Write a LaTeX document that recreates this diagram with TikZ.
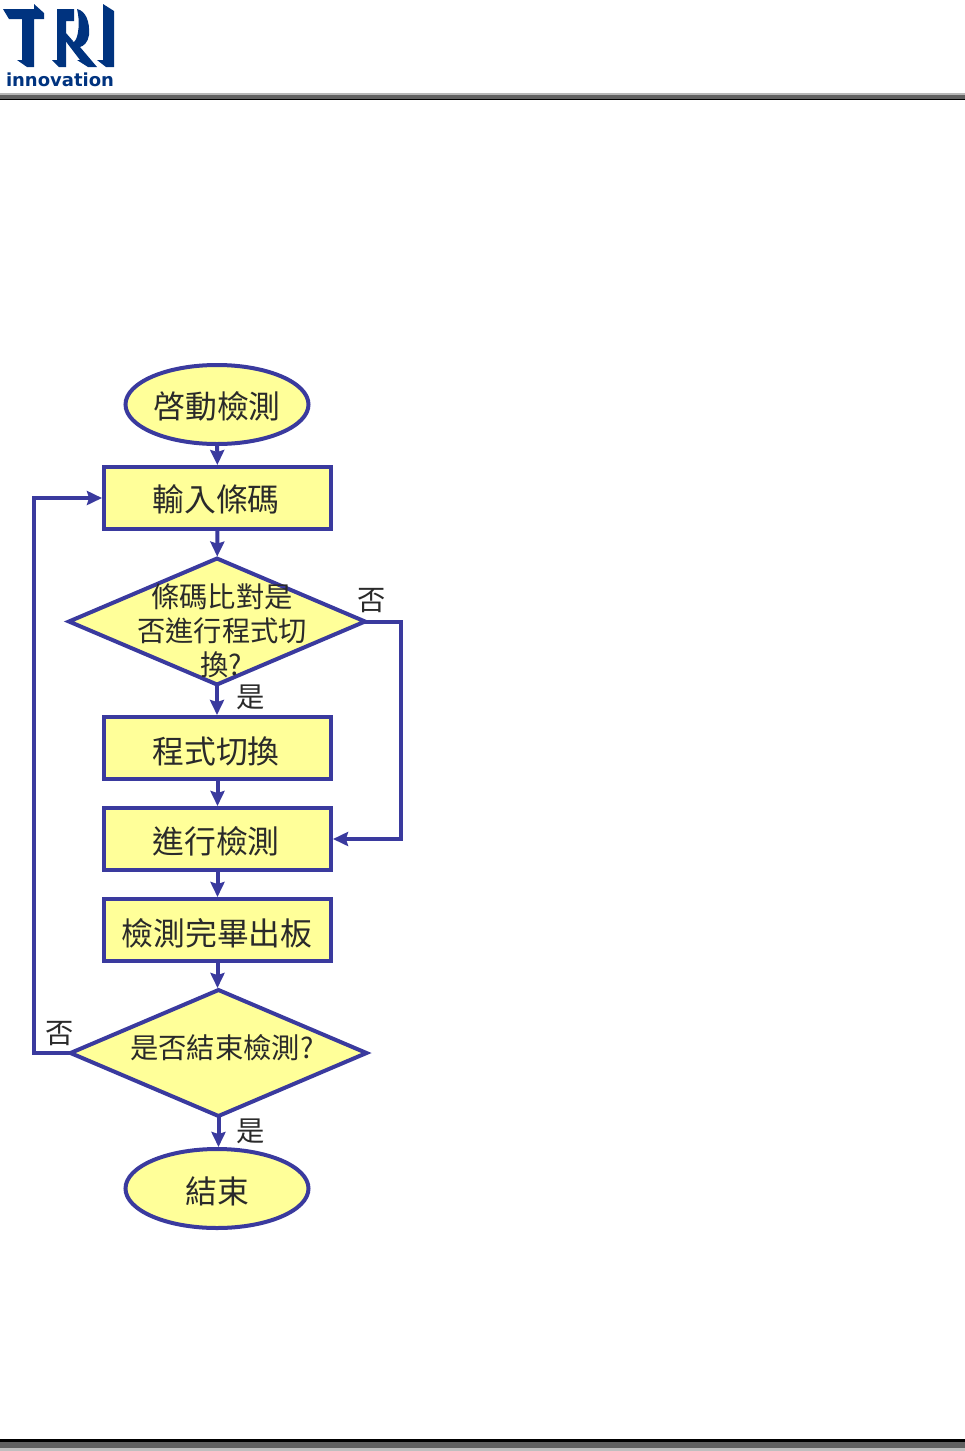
\documentclass[tikz,border=0pt]{standalone}
\usepackage{fontspec}
\setmainfont{Noto Sans CJK TC}
\newfontfamily\logofont{DejaVu Sans}
\usetikzlibrary{shapes.geometric,arrows.meta}
\definecolor{flowline}{HTML}{3A3A9E}
\definecolor{flowfill}{HTML}{FFFF99}
\definecolor{logoblue}{HTML}{00337F}
\definecolor{inkc}{HTML}{2A2A2A}
\tikzset{
 every node/.style={outer sep=0pt,inner sep=0pt,text=inkc},
 boxn/.style={draw=flowline,fill=flowfill,line width=4pt,rectangle,minimum width=227pt,minimum height=62pt},
 ovaln/.style={draw=flowline,fill=flowfill,line width=4pt,ellipse,minimum width=183pt,minimum height=79pt},
 dian/.style={draw=flowline,fill=flowfill,line width=4pt,diamond,minimum width=296pt,minimum height=126pt},
 bigt/.style={font=\fontsize{31.8}{38}\selectfont},
 midt/.style={font=\fontsize{28.3}{34}\selectfont},
 flow/.style={draw=flowline,line width=4pt,shorten >=2pt,-{Stealth[length=15pt,width=14pt,inset=2pt]}},
}
\begin{document}
\begin{tikzpicture}[x=1pt,y=-1pt]
\useasboundingbox (0,0) rectangle (965,1451);
% header and footer rules
\fill[black!28] (0,93) rectangle (965,94.5);
\fill[black!62] (0,94.5) rectangle (965,98.7);
\fill[black] (0,98.7) rectangle (965,100);
\fill[black] (0,1439) rectangle (965,1442);
\fill[black!62] (0,1442) rectangle (965,1448);
\fill[black!25] (0,1448) rectangle (965,1451);
% logo
\fill[logoblue] (3,9) -- (34,9) -- (34,4) -- (44,13) -- (44,19) -- (34,19) -- (34,67) -- (27,67) -- (17,60) -- (22,60) -- (22,19) -- (9,19) -- cycle;
\fill[logoblue] (57,9) -- (74,9) -- (74,21) -- (66,21) -- (66,33) -- (73,41) -- (66,41) -- (66,67) -- (59,67) -- (52,60) -- (57,60) -- cycle;
\fill[logoblue] (77,9) .. controls (86,11) and (90,22) .. (89,35) .. controls (88,42) and (84,46) .. (80,47) -- (97,67) -- (88,67) -- (77,60) -- (80,60) -- (61,35) -- (74,42) .. controls (79,38) and (80,20) .. (77,9) -- cycle;
\fill[logoblue] (103,4) -- (114,11) -- (114,67) -- (106,67) -- (97,60) -- (103,60) -- cycle;
\node[anchor=base west,text=logoblue,font=\logofont\bfseries\fontsize{18}{20}\selectfont] (logotext) at (6,86) {innovation};
% flow shapes
\node[ovaln] (start) at (217,404.5) {};
\node[boxn] (b1) at (217.5,498) {};
\node[dian] (d1) at (217,621.5) {};
\node[boxn] (b2) at (217.5,748) {};
\node[boxn] (b3) at (217.5,839) {};
\node[boxn] (b4) at (217.5,930) {};
\node[dian] (d2) at (218.5,1053) {};
\node[ovaln] (end) at (217,1188.5) {};
\coordinate (cr) at (401,730);
\coordinate (cl) at (34,770);
% connectors
\draw[flow] (start) -- (b1);
\draw[flow] (b1) -- (d1);
\draw[flow] (d1.south) -- (b2.north-|d1.south);
\draw[flow] (b2) -- (b3);
\draw[flow] (b3) -- (b4);
\draw[flow] (b4.south) -- (d2.north-|b4.south);
\draw[flow] (d2.south) -- (end.north-|d2.south);
\draw[flow] (d1.east) -| (cr) |- (b3.east);
\draw[flow] (d2.west) -| (cl) |- (b1.west);
% texts
\node[bigt] (t0) at (217,406) {啓動檢測};
\node[bigt] (t1) at (216,499) {輸入條碼};
\node[midt] (t2a) at (222,597) {條碼比對是};
\node[midt] (t2b) at (222,631) {否進行程式切};
\node[midt] (t2c) at (221,665) {換?};
\node[bigt] (t3) at (216,751) {程式切換};
\node[bigt] (t4) at (216,841) {進行檢測};
\node[bigt] (t5) at (217,933) {檢測完畢出板};
\node[midt] (t6) at (222,1048) {是否結束檢測?};
\node[bigt] (t7) at (217,1191) {結束};
\node[midt] (lno1) at (372,601) {否};
\node[midt] (lyes1) at (251,697) {是};
\node[midt] (lno2) at (60,1034) {否};
\node[midt] (lyes2) at (251,1131) {是};
\end{tikzpicture}
\end{document}
